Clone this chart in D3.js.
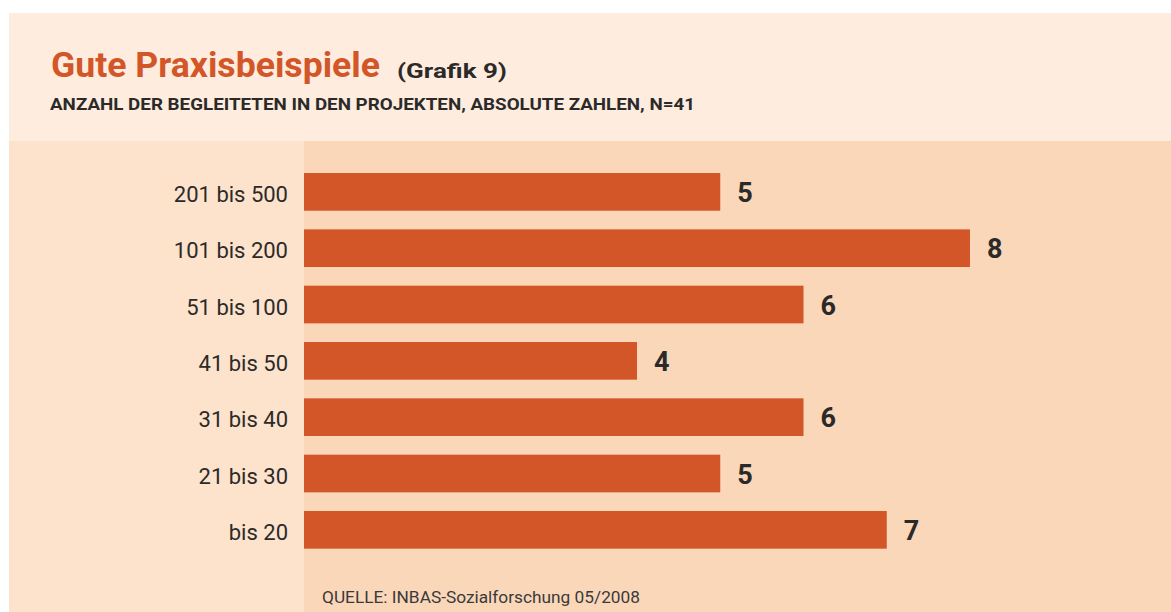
<!DOCTYPE html>
<html>
<head>
<meta charset="utf-8">
<script src="https://cdn.jsdelivr.net/npm/d3@7"></script>
<style>
  html, body { margin: 0; padding: 0; background: #fff; }
  svg { display: block; }
</style>
</head>
<body>
<div id="app"></div>
<script>
// data, top to bottom as in the chart
const categories = ['201 bis 500', '101 bis 200', '51 bis 100', '41 bis 50', '31 bis 40', '21 bis 30', 'bis 20'];
const values = [5, 8, 6, 4, 6, 5, 7];

const titleText = 'Gute Praxisbeispiele';
const grafikText = '(Grafik 9)';
const subtitleText = 'ANZAHL DER BEGLEITETEN IN DEN PROJEKTEN, ABSOLUTE ZAHLEN, N=41';
const sourceText = 'QUELLE: INBAS-Sozialforschung 05/2008';

const W = 1171, H = 612;
const orange = '#d35629';
const dark = '#2b2a29';

const svg = d3.select('#app').append('svg')
  .attr('width', W).attr('height', H)
  .style('font-family', 'Roboto, "DejaVu Sans", sans-serif');

// background panels
svg.append('rect').attr('x', 9).attr('y', 13).attr('width', W - 9).attr('height', 128).attr('fill', '#feeddf');
svg.append('rect').attr('x', 9).attr('y', 141).attr('width', 295).attr('height', H - 141).attr('fill', '#fde2cc');
svg.append('rect').attr('x', 304).attr('y', 141).attr('width', W - 304).attr('height', H - 141).attr('fill', '#fbd7b9');

// titles
svg.append('text')
  .attr('x', 51).attr('y', 77)
  .attr('font-size', 35).attr('font-weight', 700).attr('fill', orange)
  .attr('textLength', 329).attr('lengthAdjust', 'spacingAndGlyphs')
  .text(titleText);

svg.append('text')
  .attr('x', 397).attr('y', 78)
  .attr('font-size', 21).attr('font-weight', 700).attr('fill', dark)
  .attr('textLength', 110).attr('lengthAdjust', 'spacingAndGlyphs')
  .text(grafikText);

svg.append('text')
  .attr('x', 50).attr('y', 110)
  .attr('font-size', 17).attr('font-weight', 700).attr('fill', dark)
  .attr('textLength', 645).attr('lengthAdjust', 'spacingAndGlyphs')
  .text(subtitleText);

// scales
const x = d3.scaleLinear().domain([0, 8]).range([304, 970]);
const y = d3.scaleBand()
  .domain(categories)
  .range([163.7, 558])
  .paddingInner(0.331)
  .paddingOuter(0.1655);

const g = svg.append('g').selectAll('g').data(values).join('g');

g.append('rect')
  .attr('x', x(0))
  .attr('y', (d, i) => y(categories[i]))
  .attr('width', d => x(d) - x(0))
  .attr('height', y.bandwidth())
  .attr('fill', orange);

g.append('text')
  .attr('x', d => x(d) + 17)
  .attr('y', (d, i) => y(categories[i]) + y.bandwidth() / 2 + 10)
  .attr('font-size', 27).attr('font-weight', 700).attr('fill', dark)
  .text(d => d);

// category labels
svg.append('g').selectAll('text').data(categories).join('text')
  .attr('x', 288)
  .attr('y', d => y(d) + y.bandwidth() / 2 + 10)
  .attr('text-anchor', 'end')
  .attr('font-size', 22).attr('font-weight', 400).attr('fill', dark)
  .text(d => d);

// source
svg.append('text')
  .attr('x', 322).attr('y', 603)
  .attr('font-size', 17).attr('fill', '#3a3a3a')
  .attr('textLength', 318).attr('lengthAdjust', 'spacingAndGlyphs')
  .text(sourceText);
</script>
</body>
</html>
